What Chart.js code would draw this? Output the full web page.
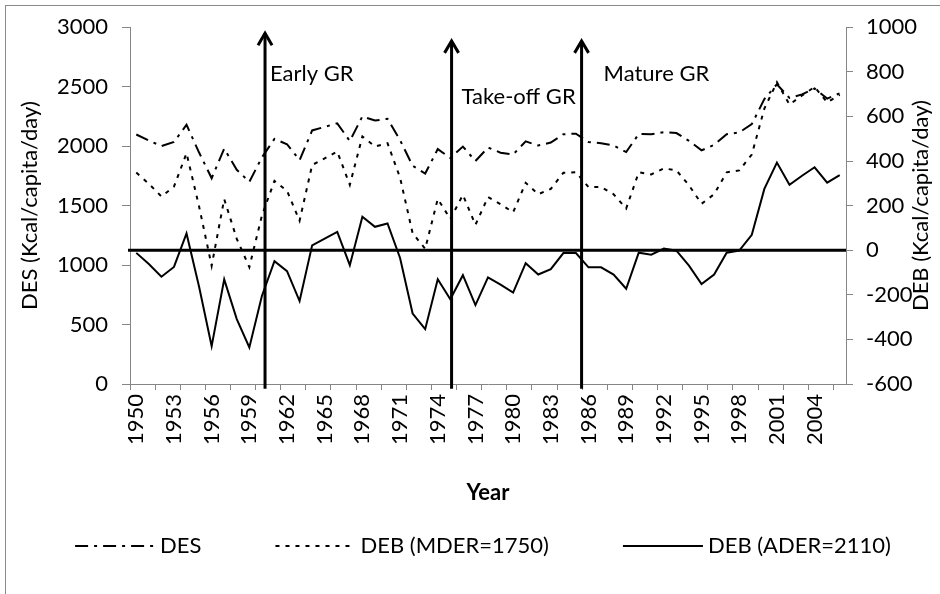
<!DOCTYPE html>
<html>
<head>
<meta charset="utf-8">
<title>DES and DEB</title>
<script src="https://cdn.jsdelivr.net/npm/chart.js@4.4.1/dist/chart.umd.min.js"></script>
<style>
  html, body { margin: 0; padding: 0; background: #fff; overflow: hidden; }
  #frame { position: absolute; left: 5px; top: 5px; width: 1200px; height: 900px;
           border-left: 1px solid #8a8a8a; border-top: 1px solid #8a8a8a; }
  #wrap { position: absolute; left: 0; top: 0; width: 940px; height: 594px; }
</style>
</head>
<body>
<div id="frame"></div>
<div id="wrap"><canvas id="chart" width="940" height="594"></canvas></div>
<script>
/* ── DATA ── */
var years = ['1950','1951','1952','1953','1954','1955','1956','1957','1958','1959',
             '1960','1961','1962','1963','1964','1965','1966','1967','1968','1969',
             '1970','1971','1972','1973','1974','1975','1976','1977','1978','1979',
             '1980','1981','1982','1983','1984','1985','1986','1987','1988','1989',
             '1990','1991','1992','1993','1994','1995','1996','1997','1998','1999',
             '2000','2001','2002','2003','2004','2005','2006'];

// dietary energy supply, left axis
var des = [2098, 2048, 2000, 2035, 2180, 1946, 1730, 1979, 1801, 1700,
           1905, 2061, 2016, 1882, 2132, 2162, 2192, 2043, 2250, 2215,
           2230, 2050, 1835, 1770, 1975, 1900, 1996, 1875, 1988, 1945,
           1930, 2040, 2005, 2030, 2100, 2105, 2035, 2025, 2005, 1950,
           2102, 2100, 2117, 2110, 2045, 1965, 2010, 2100, 2115, 2185,
           2395, 2520, 2405, 2435, 2485, 2400, 2445];

// balance against MDER=1750, right axis
var debMder = [348, 298, 241, 285, 435, 196, -70, 229, 51, -76,
               155, 311, 266, 132, 382, 412, 442, 293, 510, 465,
               480, 325, 76, 6, 230, 140, 248, 114, 238, 206,
               170, 302, 251, 275, 347, 350, 283, 283, 251, 187,
               349, 340, 367, 358, 291, 208, 251, 349, 358, 429,
               635, 753, 653, 694, 732, 663, 697];

// balance against ADER=2110, right axis
var debAder = [-12, -62, -119, -75, 75, -164, -430, -131, -309, -436,
               -205, -49, -94, -228, 22, 52, 82, -67, 150, 105,
               120, -35, -284, -354, -130, -220, -112, -246, -122, -154,
               -190, -58, -109, -85, -13, -13, -77, -77, -109, -173,
               -11, -20, 7, -2, -69, -152, -109, -11, -2, 69,
               275, 393, 293, 334, 372, 303, 337];

// green revolution phases: start year, arrow tip (left axis value), label
var phaseYears  = [1960.25, 1975.1, 1985.45];
var phaseTops   = [2950, 2885, 2885];
var phaseLabels = ['Early GR', 'Take-off GR', 'Mature GR'];

var leftTicks  = { min: 0, max: 3000, step: 500 };
var rightTicks = { min: -600, max: 1000, step: 200 };

/* ── STYLE ── */
var AXIS_GRAY = '#868686';
var FONT = 'Lato, "Open Sans", sans-serif';
var FONT_SIZE = 22;
Chart.defaults.font.family = FONT;
Chart.defaults.font.size = FONT_SIZE;
Chart.defaults.color = '#000';

function plainNumber(v) { return String(v); }

/* ── ANNOTATIONS: zero line, phase arrows ── */
var phasePlugin = {
  id: 'phases',
  afterDatasetsDraw: function(chart, args, opts) {
    var ctx = chart.ctx, xs = chart.scales.x, yl = chart.scales.y, yr = chart.scales.y1;
    var area = chart.chartArea;
    ctx.save();
    ctx.strokeStyle = '#000';
    ctx.lineWidth = 3;
    ctx.setLineDash([]);
    // DEB = 0 line
    var y0 = yr.getPixelForValue(0);
    ctx.beginPath();
    ctx.moveTo(area.left - 2, y0);
    ctx.lineTo(area.right, y0);
    ctx.stroke();

    ctx.font = FONT_SIZE + 'px ' + FONT;
    ctx.fillStyle = '#000';
    ctx.textBaseline = 'alphabetic';
    ctx.textAlign = 'left';
    for (var i = 0; i < phaseYears.length; i++) {
      var x = xs.getPixelForValue(phaseYears[i] - 1950);
      var yTop = yl.getPixelForValue(phaseTops[i]);
      var yBot = yl.getPixelForValue(opts.arrowFoot);
      ctx.beginPath();
      ctx.moveTo(x, yBot);
      ctx.lineTo(x, yTop);
      ctx.stroke();
      ctx.beginPath();
      ctx.moveTo(x - 7, yTop + 12);
      ctx.lineTo(x, yTop);
      ctx.lineTo(x + 7, yTop + 12);
      ctx.stroke();
      ctx.fillText(phaseLabels[i], x + opts.labelDx[i], yl.getPixelForValue(opts.labelAt[i]));
    }
    ctx.restore();
  }
};

/* ── RIGHT TITLE + LEGEND ── */
var extrasPlugin = {
  id: 'extras',
  afterDraw: function(chart, args, opts) {
    var ctx = chart.ctx, area = chart.chartArea;
    ctx.save();
    ctx.font = FONT_SIZE + 'px ' + FONT;
    ctx.fillStyle = '#000';

    // right axis title, reading upwards
    ctx.translate(opts.rightTitleX, (area.top + area.bottom) / 2);
    ctx.rotate(-Math.PI / 2);
    ctx.textAlign = 'center';
    ctx.textBaseline = 'middle';
    ctx.fillText(opts.rightTitle, 0, 0);
    ctx.setTransform(1, 0, 0, 1, 0, 0);

    // legend
    var sets = chart.data.datasets;
    var total = 0, widths = [];
    for (var i = 0; i < sets.length; i++) {
      var w = opts.sample + opts.textGap + ctx.measureText(sets[i].label).width;
      widths.push(w);
      total += w;
    }
    total += opts.itemGap * (sets.length - 1);
    var x = opts.centerX - total / 2;
    var y = opts.legendY;
    ctx.textAlign = 'left';
    for (var j = 0; j < sets.length; j++) {
      var ds = sets[j];
      ctx.strokeStyle = ds.borderColor;
      ctx.lineWidth = ds.borderWidth;
      ctx.setLineDash(ds.borderDash || []);
      ctx.beginPath();
      ctx.moveTo(x, y);
      ctx.lineTo(x + opts.sample, y);
      ctx.stroke();
      ctx.fillText(ds.label, x + opts.sample + opts.textGap, y);
      x += widths[j] + opts.itemGap;
    }
    ctx.restore();
  }
};

/* ── CHART ── */
var ctx = document.getElementById('chart').getContext('2d');
var chart = new Chart(ctx, {
  type: 'line',
  data: {
    labels: years,
    datasets: [
      { label: 'DES', data: des, yAxisID: 'y',
        borderColor: '#000', borderWidth: 2, borderDash: [13, 6, 3, 6] },
      { label: 'DEB (MDER=1750)', data: debMder, yAxisID: 'y1',
        borderColor: '#000', borderWidth: 2, borderDash: [4, 6] },
      { label: 'DEB (ADER=2110)', data: debAder, yAxisID: 'y1',
        borderColor: '#000', borderWidth: 2 }
    ]
  },
  options: {
    responsive: false,
    animation: false,
    devicePixelRatio: 1,
    elements: {
      point: { radius: 0, hoverRadius: 0 },
      line: { tension: 0, fill: false }
    },
    layout: { padding: { left: 5, right: 0, top: 27, bottom: 85 } },
    plugins: {
      legend: { display: false },
      tooltip: { enabled: false },
      phases: { arrowFoot: -40, labelDx: [5, 10, 22], labelAt: [2545, 2355, 2545] },
      extras: { rightTitle: 'DEB (Kcal/capita/day)', rightTitleX: 921,
                centerX: 483, legendY: 546, sample: 80, textGap: 5, itemGap: 74 }
    },
    scales: {
      x: {
        offset: true,
        grid: {
          offset: true, drawOnChartArea: false, tickLength: 6,
          color: function(c) { return c.index % 2 === 0 ? AXIS_GRAY : 'rgba(0,0,0,0)'; }
        },
        border: { color: AXIS_GRAY, width: 1 },
        ticks: {
          autoSkip: false, minRotation: 90, maxRotation: 90, padding: 4,
          callback: function(v, i) { return i % 3 === 0 ? years[i] : ''; }
        },
        title: { display: true, text: 'Year', font: { weight: 'bold' }, padding: { top: 3, bottom: 3 } },
        afterFit: function(s) { s.height = 125; }
      },
      y: {
        position: 'left',
        min: leftTicks.min, max: leftTicks.max,
        ticks: { stepSize: leftTicks.step, padding: 14, callback: plainNumber },
        grid: { drawOnChartArea: false, tickLength: 8, color: AXIS_GRAY },
        border: { color: AXIS_GRAY, width: 1 },
        title: { display: true, text: 'DES (Kcal/capita/day)', padding: { top: 12, bottom: 0 } },
        afterFit: function(s) { s.width = 125; }
      },
      y1: {
        position: 'right',
        min: rightTicks.min, max: rightTicks.max,
        ticks: { stepSize: rightTicks.step, padding: 13, callback: plainNumber },
        grid: { drawOnChartArea: false, tickLength: 7, color: AXIS_GRAY },
        border: { color: AXIS_GRAY, width: 1 },
        afterFit: function(s) { s.width = 94; }
      }
    }
  },
  plugins: [phasePlugin, extrasPlugin]
});
</script>
</body>
</html>
